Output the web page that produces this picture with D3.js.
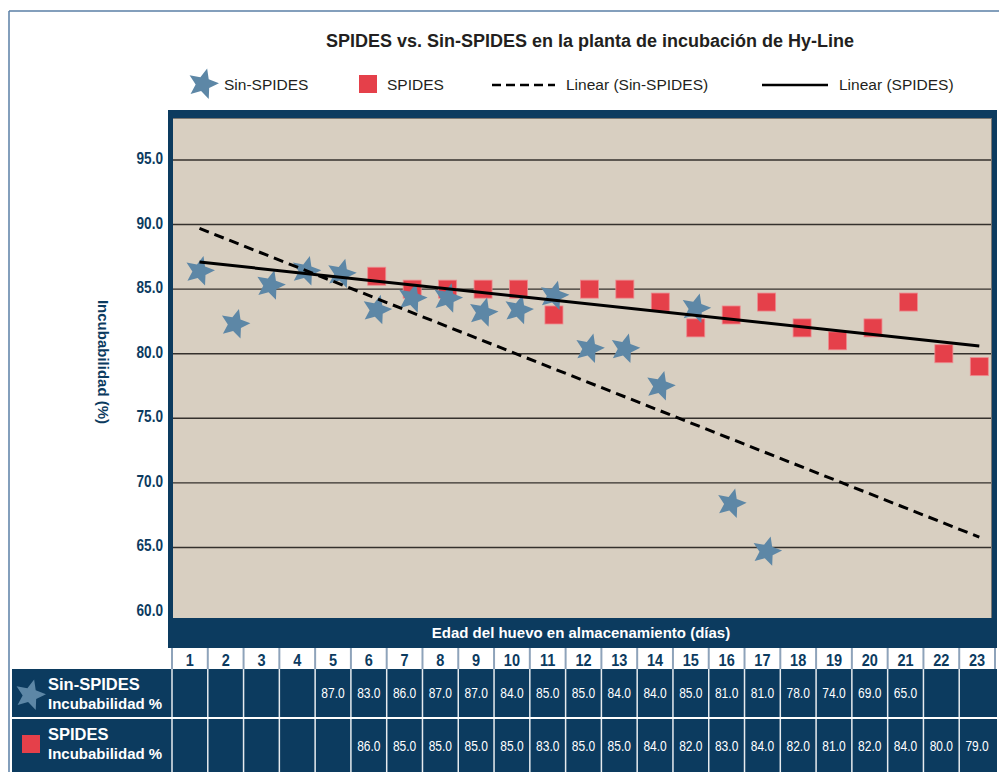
<!DOCTYPE html>
<html>
<head>
<meta charset="utf-8">
<script src="https://cdn.jsdelivr.net/npm/d3@7/dist/d3.min.js"></script>
<style>
  body { margin: 0; background: #fff; }
  svg text { font-family: "Liberation Sans", Arial, Helvetica, sans-serif; }
</style>
</head>
<body>
<div id="chart"></div>
<script>
// categories (days in storage)
var days = [1, 2, 3, 4, 5, 6, 7, 8, 9, 10, 11, 12, 13, 14, 15, 16, 17, 18, 19, 20, 21, 22, 23];
var yTicks = [60, 65, 70, 75, 80, 85, 90, 95];

// Sin-SPIDES stars as they are plotted in the chart
var sinChartDays = [1, 2, 3, 4, 5, 6, 7, 8, 9, 10, 11, 12, 13, 14, 15, 16, 17];
var sinChartValues = [86.4, 82.3, 85.3, 86.4, 86.2, 83.4, 84.3, 84.3, 83.2, 83.4, 84.5, 80.4, 80.4, 77.5, 83.5, 68.4, 64.7];

// SPIDES squares
var spidesDays = [6, 7, 8, 9, 10, 11, 12, 13, 14, 15, 16, 17, 18, 19, 20, 21, 22, 23];
var spidesValues = [86, 85, 85, 85, 85, 83, 85, 85, 84, 82, 83, 84, 82, 81, 82, 84, 80, 79];

// table row for Sin-SPIDES
var sinTableDays = [5, 6, 7, 8, 9, 10, 11, 12, 13, 14, 15, 16, 17, 18, 19, 20, 21];
var sinTableValues = [87, 83, 86, 87, 87, 84, 85, 85, 84, 84, 85, 81, 81, 78, 74, 69, 65];

// linear trend lines, ends
var trendDays = [1, 23];
var sinTrend = [89.7, 65.8];
var spidesTrend = [87.1, 80.6];

var navy = "#0c3b5f",
    plotBg = "#d8cfc1",
    starColor = "#5d87a6",
    squareColor = "#e5404a",
    sepColor = "#8ea3ba";

var svg = d3.select("#chart")
    .append("svg")
    .attr("width", 999)
    .attr("height", 772);

// star symbol (a bit fatter than d3.symbolStar)
var starType = {
    draw: function(ctx, size) {
        var r = Math.sqrt(size), ri = r * 0.46;
        for (var i = 0; i < 10; i++) {
            var a = i * Math.PI / 5, rr = i % 2 ? ri : r;
            var px = Math.sin(a) * rr, py = -Math.cos(a) * rr;
            if (i === 0) ctx.moveTo(px, py); else ctx.lineTo(px, py);
        }
        ctx.closePath();
    }
};
var star = d3.symbol().type(starType);

// condensed look: squeeze text horizontally around its anchor point
function narrow(sel, px, py, k) {
    sel.attr("transform", function(d, i) {
        return "translate(" + px(d, i) + "," + py(d, i) + ") scale(" + k + ",1)";
    });
}

// outer frame
svg.append("line").attr("x1", 9).attr("y1", 11).attr("x2", 999).attr("y2", 11)
    .attr("stroke", "#5a7fa6").attr("stroke-width", 1.5);
svg.append("line").attr("x1", 9).attr("y1", 11).attr("x2", 9).attr("y2", 772)
    .attr("stroke", "#5a7fa6").attr("stroke-width", 1.5);

// title
svg.append("text")
    .attr("x", 590)
    .attr("y", 47)
    .attr("text-anchor", "middle")
    .style("font-weight", "bold")
    .style("font-size", "18px")
    .attr("fill", "#231f20")
    .text("SPIDES vs. Sin-SPIDES en la planta de incubación de Hy-Line");

// legend
var legend = svg.append("g").style("font-size", "15.5px").attr("fill", "#231f20");
legend.append("path")
    .attr("d", star.size(256)())
    .attr("transform", "translate(203,84) rotate(15)")
    .attr("fill", starColor);
legend.append("text").attr("x", 224).attr("y", 90).text("Sin-SPIDES");
legend.append("rect").attr("x", 359).attr("y", 75).attr("width", 18).attr("height", 18)
    .attr("fill", squareColor);
legend.append("text").attr("x", 387).attr("y", 90).text("SPIDES");
legend.append("line").attr("x1", 492).attr("x2", 555).attr("y1", 85).attr("y2", 85)
    .attr("stroke", "#000").attr("stroke-width", 2.5).attr("stroke-dasharray", "9,5");
legend.append("text").attr("x", 566).attr("y", 90).text("Linear (Sin-SPIDES)");
legend.append("line").attr("x1", 762).attr("x2", 828).attr("y1", 85).attr("y2", 85)
    .attr("stroke", "#000").attr("stroke-width", 2.5);
legend.append("text").attr("x", 839).attr("y", 90).text("Linear (SPIDES)");

// plot frame
svg.append("rect").attr("x", 168).attr("y", 110).attr("width", 829).attr("height", 538)
    .attr("fill", navy);
svg.append("rect").attr("x", 173).attr("y", 118).attr("width", 819).attr("height", 500)
    .attr("fill", "#7a7772");
svg.append("rect").attr("x", 173).attr("y", 119).attr("width", 818).attr("height", 499)
    .attr("fill", plotBg);

// scales
var x = d3.scalePoint().domain(days).range([199.5, 979.3]);
var col = d3.scaleBand().domain(days).range([172, 995]);
var y = d3.scaleLinear().domain([59.54, 98.25]).range([618, 118]);

// gridlines
svg.append("g")
    .selectAll("line")
    .data(yTicks.filter(function(d) { return d > 60; }))
    .enter().append("line")
    .attr("x1", 173).attr("x2", 991)
    .attr("y1", function(d) { return y(d); })
    .attr("y2", function(d) { return y(d); })
    .attr("stroke", "#34312d")
    .attr("stroke-width", 1.4);

// y axis labels
var yAxis = svg.append("g")
    .attr("transform", "translate(163,-2)")
    .call(d3.axisLeft(y).tickValues(yTicks).tickFormat(d3.format(".1f")).tickSize(0).tickPadding(0));
yAxis.select(".domain").remove();
yAxis.selectAll("text")
    .attr("fill", navy)
    .attr("transform", "scale(0.8,1)")
    .style("font-size", "17px")
    .style("font-weight", "bold");

svg.append("text")
    .attr("transform", "translate(103,362) rotate(90)")
    .attr("dy", "0.35em")
    .attr("text-anchor", "middle")
    .attr("fill", navy)
    .style("font-weight", "bold")
    .style("font-size", "15px")
    .text("Incubabilidad (%)");

// SPIDES squares
svg.append("g")
    .selectAll("rect")
    .data(spidesDays)
    .enter().append("rect")
    .attr("x", function(d) { return x(d) - 9; })
    .attr("y", function(d, i) { return y(spidesValues[i]) - 9; })
    .attr("width", 18)
    .attr("height", 18)
    .attr("fill", squareColor)
    .attr("stroke", "#ee8a8f")
    .attr("stroke-width", 0.8);

// Sin-SPIDES stars
svg.append("g")
    .selectAll("path")
    .data(sinChartDays)
    .enter().append("path")
    .attr("d", star.size(240)())
    .attr("transform", function(d, i) {
        return "translate(" + x(d) + "," + y(sinChartValues[i]) + ") rotate(15)";
    })
    .attr("fill", starColor);

// trend lines
var trendLine = d3.line()
    .x(function(d) { return x(d[0]); })
    .y(function(d) { return y(d[1]); });

svg.append("path")
    .datum(trendDays.map(function(d, i) { return [d, sinTrend[i]]; }))
    .attr("d", trendLine)
    .attr("fill", "none")
    .attr("stroke", "#000")
    .attr("stroke-width", 3)
    .attr("stroke-dasharray", "10,6");

svg.append("path")
    .datum(trendDays.map(function(d, i) { return [d, spidesTrend[i]]; }))
    .attr("d", trendLine)
    .attr("fill", "none")
    .attr("stroke", "#000")
    .attr("stroke-width", 3);

// x axis title in the navy band
svg.append("text")
    .attr("x", 581)
    .attr("y", 638)
    .attr("text-anchor", "middle")
    .attr("fill", "#fff")
    .style("font-weight", "bold")
    .style("font-size", "15px")
    .text("Edad del huevo en almacenamiento (días)");

// header row with the days
svg.append("rect").attr("x", 172).attr("y", 648).attr("width", 823).attr("height", 21).attr("fill", "#fff");
svg.append("g")
    .selectAll("line")
    .data(days.concat(["end"]))
    .enter().append("line")
    .attr("x1", function(d) { return d === "end" ? 995 : col(d); })
    .attr("x2", function(d) { return d === "end" ? 995 : col(d); })
    .attr("y1", 648).attr("y2", 669)
    .attr("stroke", sepColor)
    .attr("stroke-width", 2);
svg.append("g")
    .selectAll("text")
    .data(days)
    .enter().append("text")
    .attr("text-anchor", "middle")
    .attr("fill", navy)
    .style("font-weight", "bold")
    .style("font-size", "16.5px")
    .text(function(d) { return d; })
    .call(narrow, function(d) { return col(d) + col.bandwidth() / 2; }, function() { return 666; }, 0.88);

// table rows
var rows = [
    { top: 669, h: 48, days: sinTableDays, values: sinTableValues, name: "Sin-SPIDES" },
    { top: 719, h: 53, days: spidesDays, values: spidesValues, name: "SPIDES" }
];

rows.forEach(function(r) {
    svg.append("rect").attr("x", 12).attr("y", r.top).attr("width", 985).attr("height", r.h)
        .attr("fill", navy);

    svg.append("g")
        .selectAll("line")
        .data(days)
        .enter().append("line")
        .attr("x1", function(d) { return col(d); })
        .attr("x2", function(d) { return col(d); })
        .attr("y1", r.top).attr("y2", r.top + r.h)
        .attr("stroke", "#fff")
        .attr("stroke-opacity", 0.9)
        .attr("stroke-width", 1.5);

    svg.append("g")
        .selectAll("text")
        .data(r.days)
        .enter().append("text")
        .attr("text-anchor", "middle")
        .attr("fill", "#fff")
        .style("font-size", "15px")
        .text(function(d, i) { return d3.format(".1f")(r.values[i]); })
        .call(narrow, function(d) { return col(d) + col.bandwidth() / 2; },
              function() { return r.top + r.h / 2 + 5; }, 0.8);

    svg.append("text")
        .attr("x", 48).attr("y", r.top + 21)
        .attr("fill", "#fff")
        .style("font-weight", "bold")
        .style("font-size", "16.5px")
        .text(r.name);
    svg.append("text")
        .attr("x", 48).attr("y", r.top + 40)
        .attr("fill", "#fff")
        .style("font-weight", "bold")
        .style("font-size", "15px")
        .text("Incubabilidad %");
});

svg.append("line").attr("x1", 12).attr("x2", 997).attr("y1", 718).attr("y2", 718)
    .attr("stroke", "#fff").attr("stroke-width", 2);

svg.append("path")
    .attr("d", star.size(256)())
    .attr("transform", "translate(30,695) rotate(15)")
    .attr("fill", starColor);
svg.append("rect").attr("x", 22).attr("y", 735).attr("width", 18).attr("height", 18)
    .attr("fill", squareColor);
</script>
</body>
</html>
